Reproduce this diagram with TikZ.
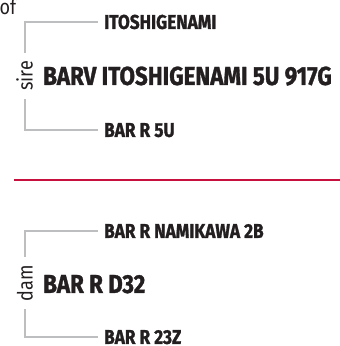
\documentclass[tikz,border=0pt]{standalone}
\usepackage{fontspec}
\newfontfamily\namefont{Fira Sans}[FakeStretch=0.86, BoldFeatures={FakeBold=1.2}]
\newfontfamily\relfont{Fira Sans}[FakeStretch=0.86]
\definecolor{inkdark}{HTML}{231F20}
\definecolor{bracketgray}{HTML}{BCBEC0}
\definecolor{dividerred}{HTML}{C8103E}

\begin{document}
\begin{tikzpicture}[x=1pt, y=1pt,
  relation/.style={font=\relfont\fontsize{21}{21}\selectfont, text=inkdark, rotate=90, inner xsep=8pt, inner ysep=0pt, text height=15pt, text depth=0pt},
  parent/.style={font=\namefont\bfseries\fontsize{20}{20}\selectfont, text=inkdark, anchor=west, inner xsep=6pt, inner ysep=0pt, text height=13.8pt, text depth=0pt},
  horse/.style={font=\namefont\bfseries\fontsize{26}{26}\selectfont, text=inkdark, anchor=west, inner sep=0pt, text height=17.9pt, text depth=0pt},
  bracket/.style={draw=bracketgray, line width=2pt},
  divider/.style={draw=dividerred, line width=2.4pt}
]
\useasboundingbox (0,0) rectangle (340,-346);

\node[font=\relfont\fontsize{21}{21}\selectfont, text=inkdark, anchor=base west, inner sep=0pt] (of) at (-0.5,-14) {of};

\node[relation] (sire) at (25,-76) {sire};
\node[horse] (sirename) at (43,-76) {BARV ITOSHIGENAMI 5U 917G};
\node[parent] (siresire) at (98,-22) {ITOSHIGENAMI};
\node[parent] (siredam) at (98,-130) {BAR R 5U};

\draw[bracket] (sire.east) |- (siresire.west);
\draw[bracket] (sire.west) |- (siredam.west);

\coordinate (divleft) at (14,-180);
\coordinate (divright) at (340,-180);
\draw[divider] (divleft) -- (divright);

\node[relation] (dam) at (25,-283) {dam};
\node[horse] (damname) at (43,-284) {BAR R D32};
\node[parent] (damsire) at (98,-231) {BAR R NAMIKAWA 2B};
\node[parent] (damdam) at (98,-337) {BAR R 23Z};

\draw[bracket] (dam.east) |- (damsire.west);
\draw[bracket] (dam.west) |- (damdam.west);
\end{tikzpicture}
\end{document}
